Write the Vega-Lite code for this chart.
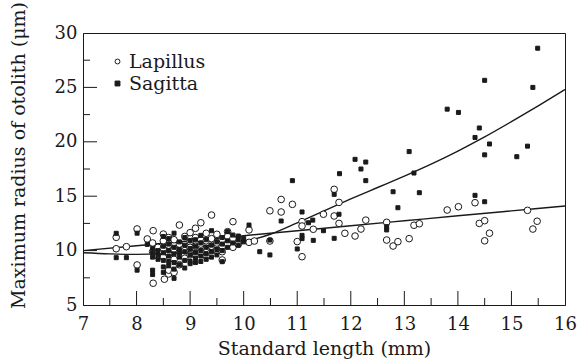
{
  "$schema": "https://vega.github.io/schema/vega-lite/v6.json",
  "width": 482,
  "height": 272,
  "autosize": {"type": "none"},
  "padding": {"left": 83, "top": 33, "right": 13, "bottom": 58},
  "background": "white",
  "config": {
    "view": {"stroke": "#1a1a1a", "strokeWidth": 1},
    "font": "DejaVu Serif"
  },
  "datasets": {
    "pts": [
      {"x": 7.62, "y": 11.22, "s": "Lapillus"}, {"x": 7.62, "y": 10.17, "s": "Lapillus"}, {"x": 7.81, "y": 10.36, "s": "Lapillus"},
      {"x": 8.01, "y": 11.99, "s": "Lapillus"}, {"x": 8.01, "y": 8.68, "s": "Lapillus"}, {"x": 8.2, "y": 11.07, "s": "Lapillus"},
      {"x": 8.31, "y": 11.83, "s": "Lapillus"}, {"x": 8.31, "y": 7.0, "s": "Lapillus"}, {"x": 8.52, "y": 7.37, "s": "Lapillus"},
      {"x": 8.6, "y": 7.85, "s": "Lapillus"}, {"x": 8.6, "y": 8.2, "s": "Lapillus"},
      {"x": 8.3, "y": 9.9, "s": "Lapillus"}, {"x": 8.3, "y": 10.7, "s": "Lapillus"},
      {"x": 8.4, "y": 10.3, "s": "Lapillus"}, {"x": 8.4, "y": 9.5, "s": "Lapillus"},
      {"x": 8.5, "y": 10.9, "s": "Lapillus"}, {"x": 8.5, "y": 10.2, "s": "Lapillus"}, {"x": 8.5, "y": 9.4, "s": "Lapillus"}, {"x": 8.5, "y": 11.52, "s": "Lapillus"},
      {"x": 8.6, "y": 10.5, "s": "Lapillus"}, {"x": 8.6, "y": 9.7, "s": "Lapillus"}, {"x": 8.6, "y": 11.2, "s": "Lapillus"},
      {"x": 8.7, "y": 11.0, "s": "Lapillus"}, {"x": 8.7, "y": 10.1, "s": "Lapillus"}, {"x": 8.7, "y": 9.2, "s": "Lapillus"}, {"x": 8.7, "y": 8.0, "s": "Lapillus"},
      {"x": 8.8, "y": 12.35, "s": "Lapillus"}, {"x": 8.8, "y": 10.6, "s": "Lapillus"}, {"x": 8.8, "y": 9.9, "s": "Lapillus"}, {"x": 8.8, "y": 8.7, "s": "Lapillus"},
      {"x": 8.9, "y": 11.3, "s": "Lapillus"}, {"x": 8.9, "y": 10.0, "s": "Lapillus"}, {"x": 8.9, "y": 9.3, "s": "Lapillus"},
      {"x": 9.0, "y": 11.65, "s": "Lapillus"}, {"x": 9.0, "y": 10.8, "s": "Lapillus"}, {"x": 9.0, "y": 10.3, "s": "Lapillus"}, {"x": 9.0, "y": 9.6, "s": "Lapillus"},
      {"x": 9.1, "y": 12.05, "s": "Lapillus"}, {"x": 9.1, "y": 11.2, "s": "Lapillus"}, {"x": 9.1, "y": 10.4, "s": "Lapillus"}, {"x": 9.1, "y": 9.7, "s": "Lapillus"},
      {"x": 9.2, "y": 12.56, "s": "Lapillus"}, {"x": 9.2, "y": 11.0, "s": "Lapillus"}, {"x": 9.2, "y": 10.6, "s": "Lapillus"}, {"x": 9.2, "y": 9.9, "s": "Lapillus"},
      {"x": 9.3, "y": 11.59, "s": "Lapillus"}, {"x": 9.3, "y": 10.9, "s": "Lapillus"}, {"x": 9.3, "y": 10.2, "s": "Lapillus"}, {"x": 9.3, "y": 9.5, "s": "Lapillus"},
      {"x": 9.4, "y": 13.27, "s": "Lapillus"}, {"x": 9.4, "y": 11.1, "s": "Lapillus"}, {"x": 9.4, "y": 10.4, "s": "Lapillus"},
      {"x": 9.5, "y": 11.5, "s": "Lapillus"}, {"x": 9.5, "y": 10.7, "s": "Lapillus"}, {"x": 9.5, "y": 10.0, "s": "Lapillus"},
      {"x": 9.6, "y": 11.0, "s": "Lapillus"}, {"x": 9.6, "y": 10.4, "s": "Lapillus"}, {"x": 9.6, "y": 9.9, "s": "Lapillus"}, {"x": 9.6, "y": 9.14, "s": "Lapillus"},
      {"x": 9.7, "y": 11.74, "s": "Lapillus"}, {"x": 9.7, "y": 11.3, "s": "Lapillus"}, {"x": 9.7, "y": 10.6, "s": "Lapillus"},
      {"x": 9.8, "y": 12.66, "s": "Lapillus"}, {"x": 9.8, "y": 11.1, "s": "Lapillus"}, {"x": 9.8, "y": 10.3, "s": "Lapillus"},
      {"x": 9.9, "y": 10.58, "s": "Lapillus"},
      {"x": 10.1, "y": 11.9, "s": "Lapillus"}, {"x": 10.1, "y": 10.76, "s": "Lapillus"}, {"x": 10.2, "y": 10.88, "s": "Lapillus"},
      {"x": 10.49, "y": 13.66, "s": "Lapillus"}, {"x": 10.49, "y": 10.88, "s": "Lapillus"}, {"x": 10.7, "y": 14.7, "s": "Lapillus"},
      {"x": 10.91, "y": 14.25, "s": "Lapillus"}, {"x": 10.7, "y": 13.55, "s": "Lapillus"}, {"x": 11.09, "y": 12.66, "s": "Lapillus"},
      {"x": 11.09, "y": 12.26, "s": "Lapillus"}, {"x": 11.3, "y": 11.96, "s": "Lapillus"}, {"x": 11.49, "y": 13.34, "s": "Lapillus"},
      {"x": 11.69, "y": 15.63, "s": "Lapillus"}, {"x": 11.78, "y": 14.43, "s": "Lapillus"}, {"x": 11.69, "y": 13.18, "s": "Lapillus"},
      {"x": 11.78, "y": 12.5, "s": "Lapillus"}, {"x": 11.89, "y": 11.59, "s": "Lapillus"}, {"x": 12.08, "y": 11.34, "s": "Lapillus"},
      {"x": 12.19, "y": 11.98, "s": "Lapillus"}, {"x": 12.28, "y": 12.8, "s": "Lapillus"}, {"x": 11.0, "y": 10.83, "s": "Lapillus"},
      {"x": 11.09, "y": 9.44, "s": "Lapillus"}, {"x": 12.67, "y": 12.6, "s": "Lapillus"}, {"x": 12.67, "y": 10.97, "s": "Lapillus"},
      {"x": 12.79, "y": 10.42, "s": "Lapillus"}, {"x": 12.88, "y": 10.82, "s": "Lapillus"}, {"x": 13.09, "y": 11.1, "s": "Lapillus"},
      {"x": 13.18, "y": 12.33, "s": "Lapillus"}, {"x": 13.28, "y": 12.47, "s": "Lapillus"}, {"x": 13.8, "y": 13.73, "s": "Lapillus"},
      {"x": 14.01, "y": 14.03, "s": "Lapillus"}, {"x": 14.32, "y": 14.4, "s": "Lapillus"}, {"x": 14.4, "y": 12.5, "s": "Lapillus"},
      {"x": 14.5, "y": 12.75, "s": "Lapillus"}, {"x": 14.59, "y": 11.6, "s": "Lapillus"}, {"x": 14.5, "y": 10.9, "s": "Lapillus"},
      {"x": 15.3, "y": 13.7, "s": "Lapillus"}, {"x": 15.4, "y": 11.98, "s": "Lapillus"}, {"x": 15.48, "y": 12.7, "s": "Lapillus"},

      {"x": 7.62, "y": 11.59, "s": "Sagitta"}, {"x": 7.62, "y": 9.35, "s": "Sagitta"}, {"x": 7.81, "y": 9.35, "s": "Sagitta"},
      {"x": 8.01, "y": 11.6, "s": "Sagitta"}, {"x": 8.01, "y": 8.2, "s": "Sagitta"}, {"x": 8.2, "y": 10.57, "s": "Sagitta"},
      {"x": 8.7, "y": 7.45, "s": "Sagitta"},
      {"x": 8.3, "y": 9.8, "s": "Sagitta"}, {"x": 8.3, "y": 9.4, "s": "Sagitta"}, {"x": 8.3, "y": 8.2, "s": "Sagitta"}, {"x": 8.3, "y": 7.8, "s": "Sagitta"}, {"x": 8.3, "y": 10.2, "s": "Sagitta"},
      {"x": 8.4, "y": 9.6, "s": "Sagitta"}, {"x": 8.4, "y": 10.0, "s": "Sagitta"}, {"x": 8.4, "y": 9.2, "s": "Sagitta"},
      {"x": 8.5, "y": 10.4, "s": "Sagitta"}, {"x": 8.5, "y": 9.8, "s": "Sagitta"}, {"x": 8.5, "y": 9.1, "s": "Sagitta"}, {"x": 8.5, "y": 8.5, "s": "Sagitta"}, {"x": 8.5, "y": 8.0, "s": "Sagitta"}, {"x": 8.5, "y": 11.3, "s": "Sagitta"},
      {"x": 8.6, "y": 10.0, "s": "Sagitta"}, {"x": 8.6, "y": 9.5, "s": "Sagitta"}, {"x": 8.6, "y": 9.0, "s": "Sagitta"}, {"x": 8.6, "y": 8.6, "s": "Sagitta"}, {"x": 8.6, "y": 10.6, "s": "Sagitta"}, {"x": 8.6, "y": 11.1, "s": "Sagitta"},
      {"x": 8.7, "y": 9.7, "s": "Sagitta"}, {"x": 8.7, "y": 10.3, "s": "Sagitta"}, {"x": 8.7, "y": 8.9, "s": "Sagitta"}, {"x": 8.7, "y": 11.6, "s": "Sagitta"}, {"x": 8.7, "y": 8.3, "s": "Sagitta"},
      {"x": 8.8, "y": 10.1, "s": "Sagitta"}, {"x": 8.8, "y": 9.4, "s": "Sagitta"}, {"x": 8.8, "y": 9.8, "s": "Sagitta"}, {"x": 8.8, "y": 10.8, "s": "Sagitta"}, {"x": 8.8, "y": 8.7, "s": "Sagitta"},
      {"x": 8.9, "y": 9.9, "s": "Sagitta"}, {"x": 8.9, "y": 10.5, "s": "Sagitta"}, {"x": 8.9, "y": 9.1, "s": "Sagitta"}, {"x": 8.9, "y": 8.4, "s": "Sagitta"}, {"x": 8.9, "y": 11.2, "s": "Sagitta"},
      {"x": 9.0, "y": 10.2, "s": "Sagitta"}, {"x": 9.0, "y": 9.6, "s": "Sagitta"}, {"x": 9.0, "y": 9.0, "s": "Sagitta"}, {"x": 9.0, "y": 10.9, "s": "Sagitta"}, {"x": 9.0, "y": 8.8, "s": "Sagitta"},
      {"x": 9.1, "y": 10.4, "s": "Sagitta"}, {"x": 9.1, "y": 9.3, "s": "Sagitta"}, {"x": 9.1, "y": 11.0, "s": "Sagitta"}, {"x": 9.1, "y": 9.8, "s": "Sagitta"}, {"x": 9.1, "y": 8.9, "s": "Sagitta"},
      {"x": 9.2, "y": 10.0, "s": "Sagitta"}, {"x": 9.2, "y": 9.5, "s": "Sagitta"}, {"x": 9.2, "y": 10.7, "s": "Sagitta"}, {"x": 9.2, "y": 9.0, "s": "Sagitta"}, {"x": 9.2, "y": 11.4, "s": "Sagitta"},
      {"x": 9.3, "y": 10.3, "s": "Sagitta"}, {"x": 9.3, "y": 9.7, "s": "Sagitta"}, {"x": 9.3, "y": 9.2, "s": "Sagitta"}, {"x": 9.3, "y": 11.0, "s": "Sagitta"},
      {"x": 9.4, "y": 10.5, "s": "Sagitta"}, {"x": 9.4, "y": 9.9, "s": "Sagitta"}, {"x": 9.4, "y": 11.83, "s": "Sagitta"}, {"x": 9.4, "y": 9.4, "s": "Sagitta"},
      {"x": 9.5, "y": 10.1, "s": "Sagitta"}, {"x": 9.5, "y": 10.8, "s": "Sagitta"}, {"x": 9.5, "y": 9.6, "s": "Sagitta"},
      {"x": 9.6, "y": 10.6, "s": "Sagitta"}, {"x": 9.6, "y": 10.0, "s": "Sagitta"}, {"x": 9.6, "y": 8.98, "s": "Sagitta"}, {"x": 9.6, "y": 11.2, "s": "Sagitta"},
      {"x": 9.7, "y": 10.9, "s": "Sagitta"}, {"x": 9.7, "y": 10.3, "s": "Sagitta"}, {"x": 9.7, "y": 11.74, "s": "Sagitta"},
      {"x": 9.8, "y": 11.43, "s": "Sagitta"}, {"x": 9.8, "y": 10.7, "s": "Sagitta"}, {"x": 9.9, "y": 11.0, "s": "Sagitta"},
      {"x": 9.9, "y": 11.34, "s": "Sagitta"}, {"x": 9.9, "y": 10.5, "s": "Sagitta"}, {"x": 10.0, "y": 10.8, "s": "Sagitta"}, {"x": 10.0, "y": 11.1, "s": "Sagitta"},
      {"x": 10.1, "y": 12.35, "s": "Sagitta"}, {"x": 10.3, "y": 9.9, "s": "Sagitta"}, {"x": 10.49, "y": 9.6, "s": "Sagitta"},
      {"x": 10.49, "y": 10.97, "s": "Sagitta"}, {"x": 10.7, "y": 12.72, "s": "Sagitta"}, {"x": 10.91, "y": 16.43, "s": "Sagitta"},
      {"x": 11.0, "y": 10.15, "s": "Sagitta"}, {"x": 11.09, "y": 13.55, "s": "Sagitta"}, {"x": 11.09, "y": 11.4, "s": "Sagitta"},
      {"x": 11.09, "y": 11.1, "s": "Sagitta"}, {"x": 11.21, "y": 12.56, "s": "Sagitta"}, {"x": 11.29, "y": 12.8, "s": "Sagitta"},
      {"x": 11.3, "y": 10.94, "s": "Sagitta"}, {"x": 11.49, "y": 11.83, "s": "Sagitta"}, {"x": 11.69, "y": 15.17, "s": "Sagitta"},
      {"x": 11.69, "y": 11.13, "s": "Sagitta"}, {"x": 11.78, "y": 13.34, "s": "Sagitta"}, {"x": 11.79, "y": 17.07, "s": "Sagitta"},
      {"x": 12.08, "y": 18.39, "s": "Sagitta"}, {"x": 12.19, "y": 17.5, "s": "Sagitta"}, {"x": 12.28, "y": 18.14, "s": "Sagitta"},
      {"x": 12.28, "y": 16.43, "s": "Sagitta"}, {"x": 12.67, "y": 11.9, "s": "Sagitta"}, {"x": 12.67, "y": 12.2, "s": "Sagitta"},
      {"x": 12.79, "y": 15.41, "s": "Sagitta"}, {"x": 12.88, "y": 13.94, "s": "Sagitta"}, {"x": 13.09, "y": 19.1, "s": "Sagitta"},
      {"x": 13.18, "y": 17.13, "s": "Sagitta"}, {"x": 13.28, "y": 15.32, "s": "Sagitta"}, {"x": 13.8, "y": 23.0, "s": "Sagitta"},
      {"x": 14.01, "y": 22.7, "s": "Sagitta"}, {"x": 14.32, "y": 20.4, "s": "Sagitta"}, {"x": 14.32, "y": 15.08, "s": "Sagitta"},
      {"x": 14.4, "y": 21.27, "s": "Sagitta"}, {"x": 14.5, "y": 25.65, "s": "Sagitta"}, {"x": 14.5, "y": 18.8, "s": "Sagitta"},
      {"x": 14.5, "y": 14.49, "s": "Sagitta"}, {"x": 14.59, "y": 19.8, "s": "Sagitta"}, {"x": 15.1, "y": 18.63, "s": "Sagitta"},
      {"x": 15.3, "y": 19.6, "s": "Sagitta"}, {"x": 15.4, "y": 25.0, "s": "Sagitta"}, {"x": 15.49, "y": 28.6, "s": "Sagitta"}
    ],
    "curves": [
      {"x": 7, "y": 10.0, "c": "L"}, {"x": 8, "y": 10.45, "c": "L"}, {"x": 9, "y": 10.9, "c": "L"}, {"x": 10, "y": 11.37, "c": "L"},
      {"x": 11, "y": 11.83, "c": "L"}, {"x": 12, "y": 12.28, "c": "L"}, {"x": 13, "y": 12.74, "c": "L"}, {"x": 14, "y": 13.2, "c": "L"},
      {"x": 15, "y": 13.65, "c": "L"}, {"x": 16, "y": 14.1, "c": "L"},
      {"x": 7, "y": 9.8, "c": "S"}, {"x": 7.5, "y": 9.7, "c": "S"}, {"x": 8, "y": 9.65, "c": "S"}, {"x": 8.5, "y": 9.72, "c": "S"},
      {"x": 9, "y": 9.95, "c": "S"}, {"x": 9.5, "y": 10.3, "c": "S"}, {"x": 10, "y": 10.8, "c": "S"}, {"x": 10.5, "y": 11.5, "c": "S"},
      {"x": 11, "y": 12.55, "c": "S"}, {"x": 11.5, "y": 13.65, "c": "S"}, {"x": 12, "y": 14.75, "c": "S"}, {"x": 12.5, "y": 15.8, "c": "S"},
      {"x": 13, "y": 16.85, "c": "S"}, {"x": 13.5, "y": 17.95, "c": "S"}, {"x": 14, "y": 19.15, "c": "S"}, {"x": 14.5, "y": 20.45, "c": "S"},
      {"x": 15, "y": 21.85, "c": "S"}, {"x": 15.5, "y": 23.3, "c": "S"}, {"x": 16, "y": 24.8, "c": "S"}
    ],
    "xticks": [
      {"x": 8, "y": 5, "k": "major"}, {"x": 9, "y": 5, "k": "major"}, {"x": 10, "y": 5, "k": "major"}, {"x": 11, "y": 5, "k": "major"},
      {"x": 12, "y": 5, "k": "major"}, {"x": 13, "y": 5, "k": "major"}, {"x": 14, "y": 5, "k": "major"}, {"x": 15, "y": 5, "k": "major"},
      {"x": 7.5, "y": 5, "k": "minor"}, {"x": 8.5, "y": 5, "k": "minor"}, {"x": 9.5, "y": 5, "k": "minor"}, {"x": 10.5, "y": 5, "k": "minor"},
      {"x": 11.5, "y": 5, "k": "minor"}, {"x": 12.5, "y": 5, "k": "minor"}, {"x": 13.5, "y": 5, "k": "minor"}, {"x": 14.5, "y": 5, "k": "minor"},
      {"x": 15.5, "y": 5, "k": "minor"}
    ],
    "yticks": [
      {"x": 7, "y": 10, "k": "major"}, {"x": 7, "y": 15, "k": "major"}, {"x": 7, "y": 20, "k": "major"}, {"x": 7, "y": 25, "k": "major"},
      {"x": 7, "y": 7.5, "k": "minor"}, {"x": 7, "y": 12.5, "k": "minor"}, {"x": 7, "y": 17.5, "k": "minor"}, {"x": 7, "y": 22.5, "k": "minor"},
      {"x": 7, "y": 27.5, "k": "minor"}
    ]
  },
  "encoding": {
    "x": {
      "field": "x", "type": "quantitative",
      "scale": {"domain": [7, 16], "nice": false, "zero": false},
      "axis": {
        "values": [7, 8, 9, 10, 11, 12, 13, 14, 15, 16],
        "format": "d", "labelOverlap": false, "labelFlush": false,
        "ticks": false, "labelPadding": 10, "domainColor": "#1a1a1a",
        "grid": false,
        "labelColor": "#1a1a1a", "labelFont": "DejaVu Serif", "labelFontSize": 18,
        "title": "Standard length (mm)", "titleFont": "DejaVu Serif", "titleFontSize": 19,
        "titleFontWeight": "normal", "titleColor": "#1a1a1a", "titlePadding": 6
      }
    },
    "y": {
      "field": "y", "type": "quantitative",
      "scale": {"domain": [5, 30], "nice": false, "zero": false},
      "axis": {
        "values": [5, 10, 15, 20, 25, 30],
        "format": "d", "labelOverlap": false, "labelFlush": false,
        "ticks": false, "labelPadding": 6, "domainColor": "#1a1a1a",
        "grid": false,
        "labelColor": "#1a1a1a", "labelFont": "DejaVu Serif", "labelFontSize": 18,
        "title": "Maximum radius of otolith (μm)", "titleFont": "DejaVu Serif", "titleFontSize": 19,
        "titleFontWeight": "normal", "titleColor": "#1a1a1a", "titlePadding": 26, "titleY": 122
      }
    }
  },
  "layer": [
    {
      "data": {"name": "xticks"},
      "mark": {"type": "tick", "orient": "vertical", "thickness": 1, "color": "#1a1a1a", "opacity": 1, "clip": true},
      "encoding": {
        "size": {"field": "k", "type": "nominal", "scale": {"domain": ["major", "minor"], "range": [28, 14]}, "legend": null}
      }
    },
    {
      "data": {"name": "yticks"},
      "mark": {"type": "tick", "orient": "horizontal", "thickness": 1, "color": "#1a1a1a", "opacity": 1, "clip": true},
      "encoding": {
        "size": {"field": "k", "type": "nominal", "scale": {"domain": ["major", "minor"], "range": [28, 14]}, "legend": null}
      }
    },
    {
      "data": {"name": "curves"},
      "mark": {"type": "line", "interpolate": "monotone", "stroke": "#1a1a1a", "strokeWidth": 1.4},
      "encoding": {
        "detail": {"field": "c"}
      }
    },
    {
      "data": {"name": "pts"},
      "transform": [{"filter": "datum.s === 'Lapillus'"}],
      "mark": {"type": "point", "filled": true, "strokeWidth": 1, "opacity": 1, "size": 44},
      "encoding": {
        "shape": {
          "field": "s", "type": "nominal",
          "scale": {"domain": ["Lapillus", "Sagitta"], "range": ["circle", "square"]},
          "legend": {
            "title": null, "orient": "none", "legendX": 25, "legendY": 19,
            "labelFont": "DejaVu Serif", "labelFontSize": 19, "labelColor": "#1a1a1a",
            "symbolSize": 24, "symbolStrokeWidth": 1,
            "rowPadding": 2, "labelOffset": 2
          }
        },
        "fill": {
          "field": "s", "type": "nominal",
          "scale": {"domain": ["Lapillus", "Sagitta"], "range": ["white", "#1a1a1a"]},
          "legend": {
            "title": null, "orient": "none", "legendX": 25, "legendY": 19,
            "labelFont": "DejaVu Serif", "labelFontSize": 19, "labelColor": "#1a1a1a",
            "symbolSize": 24, "symbolStrokeWidth": 1,
            "rowPadding": 2, "labelOffset": 2
          }
        },
        "stroke": {
          "field": "s", "type": "nominal",
          "scale": {"domain": ["Lapillus", "Sagitta"], "range": ["#1a1a1a", "#1a1a1a"]},
          "legend": {
            "title": null, "orient": "none", "legendX": 25, "legendY": 19,
            "labelFont": "DejaVu Serif", "labelFontSize": 19, "labelColor": "#1a1a1a",
            "symbolSize": 24, "symbolStrokeWidth": 1,
            "rowPadding": 2, "labelOffset": 2
          }
        }
      }
    },
    {
      "data": {"name": "pts"},
      "transform": [{"filter": "datum.s === 'Sagitta'"}],
      "mark": {"type": "point", "filled": true, "strokeWidth": 1, "opacity": 1, "size": 16},
      "encoding": {
        "shape": {"field": "s", "type": "nominal"},
        "fill": {"field": "s", "type": "nominal"},
        "stroke": {"field": "s", "type": "nominal"}
      }
    }
  ]
}
